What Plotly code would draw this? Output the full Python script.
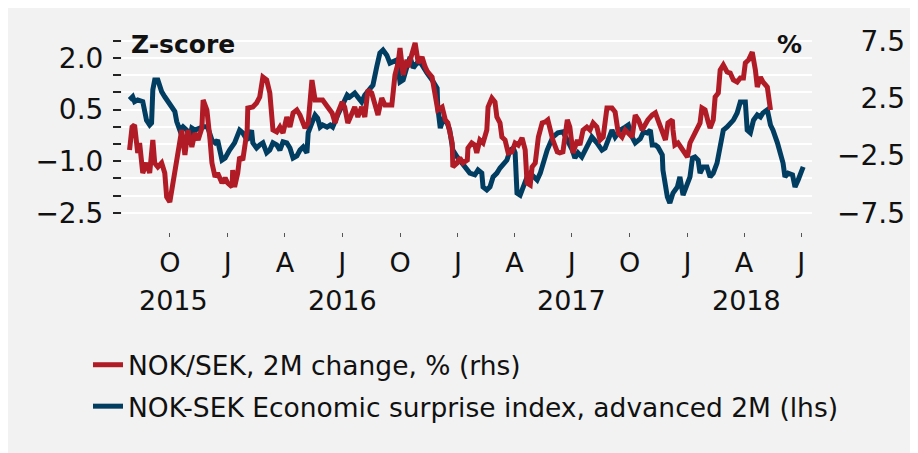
import plotly.graph_objects as go

# ---- data -------------------------------------------------------------
blue_dates = [
 "2015-07-29","2015-08-03","2015-08-06","2015-08-11","2015-08-19","2015-08-25","2015-08-30","2015-09-02",
 "2015-09-04","2015-09-07","2015-09-12","2015-09-18","2015-09-23","2015-09-28","2015-10-04","2015-10-09",
 "2015-10-12","2015-10-17","2015-10-22","2015-10-28","2015-11-02","2015-11-05","2015-11-10","2015-11-18",
 "2015-11-23","2015-11-30","2015-12-07","2015-12-12","2015-12-16","2015-12-23","2015-12-28","2016-01-04",
 "2016-01-12","2016-01-20","2016-01-25","2016-02-01","2016-02-08","2016-02-10","2016-02-16","2016-02-21",
 "2016-02-26","2016-03-03","2016-03-08","2016-03-13","2016-03-19","2016-03-24","2016-03-29","2016-04-04",
 "2016-04-09","2016-04-14","2016-04-20","2016-04-25","2016-04-30","2016-05-06","2016-05-08","2016-05-14",
 "2016-05-19","2016-05-23","2016-05-27","2016-05-31","2016-06-07","2016-06-12","2016-06-16","2016-06-24",
 "2016-07-02","2016-07-09","2016-07-13","2016-07-21","2016-07-26","2016-08-01","2016-08-06","2016-08-14",
 "2016-08-19","2016-08-25","2016-08-30","2016-09-04","2016-09-10","2016-09-15","2016-09-20","2016-09-26",
 "2016-10-01","2016-10-06","2016-10-12","2016-10-17","2016-10-22","2016-10-28","2016-11-02","2016-11-07",
 "2016-11-13","2016-11-21","2016-11-29","2016-11-30","2016-12-04","2016-12-08","2016-12-15","2016-12-19",
 "2016-12-24","2016-12-31","2017-01-04","2017-01-12","2017-01-20","2017-01-28","2017-02-02","2017-02-08",
 "2017-02-10","2017-02-16","2017-02-21","2017-02-26","2017-03-04","2017-03-09","2017-03-14","2017-03-20",
 "2017-03-25","2017-03-30","2017-04-02","2017-04-05","2017-04-10","2017-04-15","2017-04-21","2017-04-26",
 "2017-05-01","2017-05-07","2017-05-12","2017-05-16","2017-05-23","2017-05-28","2017-06-01","2017-06-09",
 "2017-06-17","2017-06-24","2017-07-02","2017-07-06","2017-07-11","2017-07-17","2017-07-22","2017-07-27",
 "2017-08-02","2017-08-10","2017-08-18","2017-08-23","2017-08-28","2017-09-03","2017-09-08","2017-09-16",
 "2017-09-24","2017-09-29","2017-10-05","2017-10-10","2017-10-18","2017-10-23","2017-10-29","2017-11-03",
 "2017-11-06","2017-11-11","2017-11-15","2017-11-22","2017-11-23","2017-11-27","2017-11-30","2017-12-04",
 "2017-12-09","2017-12-16","2017-12-20","2017-12-25","2018-01-01","2018-01-05","2018-01-09","2018-01-13",
 "2018-01-18","2018-01-21","2018-01-26","2018-02-01","2018-02-06","2018-02-11","2018-02-17","2018-02-22",
 "2018-02-27","2018-03-05","2018-03-10","2018-03-15","2018-03-21","2018-03-26","2018-04-03","2018-04-06",
 "2018-04-11","2018-04-16","2018-04-22","2018-04-27","2018-05-01","2018-05-08","2018-05-13","2018-05-17",
 "2018-05-24","2018-05-29","2018-06-02","2018-06-05","2018-06-10","2018-06-17","2018-06-21","2018-06-26",
 "2018-07-03","2018-07-04",
]
blue_values = [
 0.78,0.87,0.73,0.78,0.73,0.19,0.05,0.11,
 1.07,1.36,1.36,1.02,0.87,0.73,0.54,0.44,
 0.15,-0.10,0.00,-0.10,-0.29,-0.04,-0.10,-0.04,
 0.00,0.00,-0.39,-0.47,-0.39,-0.97,-0.91,-0.68,
 -0.47,-0.10,-0.18,-0.39,-0.10,-0.47,-0.62,-0.53,
 -0.47,-0.76,-0.68,-0.47,-0.53,-0.68,-0.44,-0.47,
 -0.62,-0.91,-0.85,-0.68,-0.59,-0.76,-0.18,0.11,
 0.34,0.25,-0.01,0.05,-0.01,0.05,-0.01,0.34,
 0.63,0.92,0.86,0.98,0.86,0.72,0.92,1.12,
 1.21,1.74,2.14,2.23,2.08,1.85,1.88,1.94,
 1.30,1.36,1.74,2.03,1.71,1.85,1.88,1.71,
 1.56,1.36,1.12,0.57,-0.04,0.19,0.11,-0.10,
 -0.68,-0.88,-0.97,-1.17,-1.35,-1.40,-1.26,-1.35,
 -1.75,-1.84,-1.75,-1.46,-1.35,-1.20,-1.11,-0.97,
 -0.68,-0.62,-0.76,-1.93,-1.99,-1.75,-1.46,-1.35,
 -1.46,-1.55,-1.35,-1.06,-0.68,-0.47,-0.30,-0.18,
 -0.15,-0.39,-0.68,-0.91,-0.76,-0.88,-0.68,-0.47,
 -0.30,-0.47,-0.68,-0.62,-0.39,-0.10,-0.30,-0.10,
 -0.01,0.05,-0.30,-0.47,-0.35,-0.15,-0.18,-0.10,
 -0.53,-0.53,-0.59,-0.82,-1.26,-1.75,-2.04,-2.22,
 -1.93,-1.75,-1.46,-1.99,-1.64,-1.46,-0.91,-0.88,
 -0.97,-1.35,-1.17,-1.17,-1.46,-1.35,-1.06,-0.47,
 -0.10,-0.01,0.11,0.19,0.40,0.72,0.72,-0.10,
 -0.18,0.19,0.34,0.28,0.40,0.49,0.05,-0.10,
 -0.47,-0.76,-1.06,-1.46,-1.35,-1.40,-1.75,-1.55,
 -1.26,-1.17,
]

red_dates = [
 "2015-07-29","2015-08-02","2015-08-06","2015-08-09","2015-08-11","2015-08-14","2015-08-19","2015-08-25",
 "2015-08-30","2015-09-04","2015-09-07","2015-09-12","2015-09-18","2015-09-23","2015-09-26","2015-10-01",
 "2015-10-06","2015-10-12","2015-10-17","2015-10-20","2015-10-25","2015-10-30","2015-11-05","2015-11-10",
 "2015-11-15","2015-11-21","2015-11-23","2015-11-29","2015-12-04","2015-12-07","2015-12-12","2015-12-16",
 "2015-12-23","2015-12-28","2016-01-01","2016-01-08","2016-01-09","2016-01-12","2016-01-17","2016-01-20",
 "2016-01-25","2016-02-01","2016-02-02","2016-02-10","2016-02-16","2016-02-21","2016-02-26","2016-03-03",
 "2016-03-08","2016-03-13","2016-03-19","2016-03-24","2016-03-29","2016-04-04","2016-04-09","2016-04-14",
 "2016-04-20","2016-04-25","2016-05-03","2016-05-08","2016-05-14","2016-05-19","2016-05-23","2016-05-31",
 "2016-06-08","2016-06-15","2016-06-20","2016-06-24","2016-07-01","2016-07-05","2016-07-10","2016-07-17",
 "2016-07-21","2016-07-26","2016-08-01","2016-08-06","2016-08-11","2016-08-17","2016-08-22","2016-08-27",
 "2016-09-02","2016-09-07","2016-09-18","2016-09-23","2016-09-28","2016-10-01","2016-10-06","2016-10-12",
 "2016-10-14","2016-10-20","2016-10-25","2016-10-30","2016-11-05","2016-11-10","2016-11-14","2016-11-21",
 "2016-11-26","2016-11-30","2016-12-07","2016-12-12","2016-12-16","2016-12-23","2016-12-24","2016-12-31",
 "2017-01-04","2017-01-09","2017-01-16","2017-01-17","2017-01-23","2017-01-28","2017-01-31","2017-02-05",
 "2017-02-10","2017-02-16","2017-02-18","2017-02-24","2017-03-01","2017-03-04","2017-03-09","2017-03-12",
 "2017-03-17","2017-03-22","2017-03-28","2017-04-02","2017-04-07","2017-04-13","2017-04-18","2017-04-21",
 "2017-04-26","2017-04-29","2017-05-04","2017-05-09","2017-05-15","2017-05-20","2017-05-24","2017-05-28",
 "2017-06-01","2017-06-08","2017-06-12","2017-06-17","2017-06-24","2017-06-28","2017-07-03","2017-07-10",
 "2017-07-14","2017-07-19","2017-07-25","2017-07-30","2017-08-04","2017-08-10","2017-08-15","2017-08-20",
 "2017-08-26","2017-09-03","2017-09-08","2017-09-13","2017-09-19","2017-09-24","2017-09-29","2017-10-05",
 "2017-10-10","2017-10-15","2017-10-21","2017-10-26","2017-10-30","2017-11-06","2017-11-11","2017-11-15",
 "2017-11-22","2017-11-27","2017-12-01","2017-12-08","2017-12-09","2017-12-12","2017-12-17","2017-12-24",
 "2017-12-28","2018-01-01","2018-01-05","2018-01-10","2018-01-16","2018-01-21","2018-01-24","2018-01-29",
 "2018-02-03","2018-02-06","2018-02-11","2018-02-14","2018-02-19","2018-02-22","2018-02-27","2018-03-05",
 "2018-03-10","2018-03-15","2018-03-21","2018-03-26","2018-03-31","2018-04-03","2018-04-08","2018-04-14",
 "2018-04-19","2018-04-22","2018-04-27","2018-05-01","2018-05-08","2018-05-13",
]
red_values = [
 -2.03,-0.03,0.15,-1.42,-2.29,-1.42,-4.04,-3.16,
 -4.04,-1.16,-3.16,-3.51,-3.16,-4.04,-6.13,-6.57,
 -4.91,-3.16,-1.42,-0.29,-2.47,-0.29,-1.77,-0.55,
 -1.16,-0.11,2.33,1.46,-1.16,-3.16,-4.39,-4.04,
 -4.91,-4.47,-4.91,-5.26,-3.78,-5.26,-4.04,-2.64,
 -2.91,-0.29,1.63,1.72,2.07,2.59,4.33,4.07,
 2.94,-0.29,-0.46,-0.03,-0.55,0.85,-0.03,1.20,
 1.46,1.02,-0.11,0.33,4.07,2.33,2.33,2.33,
 1.72,1.20,0.33,1.20,2.15,1.72,0.33,1.28,
 1.72,0.85,1.72,0.85,3.20,2.94,2.07,1.02,
 2.50,1.89,1.89,4.51,5.56,6.86,4.51,5.82,
 5.21,6.25,7.30,5.56,6.08,5.21,4.77,4.33,
 2.94,1.46,1.72,0.59,0.33,-1.42,-3.51,-3.16,
 -2.70,-3.16,-2.91,-1.86,-1.42,-1.60,-2.29,-1.16,
 -1.42,-0.29,1.72,2.50,2.15,0.85,0.33,-0.90,
 -1.16,-2.29,-2.20,-1.42,-1.60,-0.98,-2.03,-4.91,
 -5.08,-3.51,-3.16,-0.90,0.33,0.41,0.59,-0.55,
 -1.16,-2.20,-2.29,-2.20,0.59,-0.03,-2.29,-1.16,
 -1.60,-0.29,-0.03,-0.29,0.33,-0.03,-1.16,-0.90,
 1.63,1.63,1.28,-0.55,-0.90,-0.29,-0.55,-0.90,
 1.02,0.59,-0.29,0.33,0.59,1.02,1.20,0.59,
 -0.29,-1.16,0.33,0.59,-0.29,-1.60,-1.42,-2.03,
 -2.20,-2.64,-1.42,-0.90,-0.11,0.33,1.63,1.46,
 0.41,-0.11,0.59,2.59,2.94,4.94,5.38,4.77,
 4.68,4.07,3.90,4.25,4.25,5.56,5.82,6.51,
 4.94,3.46,4.33,3.90,3.46,1.46,
]

red_name = "NOK/SEK, 2M change, % (rhs)"
blue_name = "NOK-SEK Economic surprise index, advanced 2M (lhs)"

x_tick_dates = ["2015-10-01","2016-01-01","2016-04-01","2016-07-01","2016-10-01","2017-01-01",
                "2017-04-01","2017-07-01","2017-10-01","2018-01-01","2018-04-01","2018-07-01"]
x_tick_text = ["O","J","A","J","O","J","A","J","O","J","A","J"]
year_tick_dates = ["2016-01-01","2017-01-01","2018-01-01"]
year_labels = ["2015","2016","2017","2018"]
year_label_dates = ["2015-10-07","2016-07-01","2017-06-30","2018-04-05"]

left_ticks = [-2.5,-2.0,-1.5,-1.0,-0.5,0.0,0.5,1.0,1.5,2.0,2.5]
left_text = ["\u22122.5","","","\u22121.0","","","0.5","","","2.0",""]
right_ticks = [-7.5,-5.0,-2.5,0.0,2.5,5.0,7.5]
right_label_ticks = [-7.5,-2.5,2.5,7.5]
right_label_text = ["\u22127.5","\u22122.5","2.5","7.5"]

# ---- style ------------------------------------------------------------
RED = "#b01b25"
BLUE = "#003d61"
BG = "#f2f2f2"
FONT = "DejaVu Sans"
W, H = 918, 453
OFF = 8                       # page body margin
ML, MR, MT, MB = 114, 18, 28, 229
PW = W - ML - MR
PH = H - MT - MB
XDOM = 690 / PW
YL = [-3.061, 2.637]
YR = [3 * YL[0], 3 * YL[1]]
XR = ["2015-07-17", "2018-07-18"]

def px(x):   # screen x -> paper
    return (x - OFF - ML) / PW

def py(y):   # screen y -> paper
    return (H - MB - (y - OFF)) / PH

fig = go.Figure()
fig.add_trace(go.Scatter(x=red_dates, y=red_values, name=red_name, mode="lines",
                         legendgroup="a", line=dict(color=RED, width=5), yaxis="y3"))
fig.add_trace(go.Scatter(x=blue_dates, y=blue_values, name=blue_name, mode="lines",
                         legendgroup="b", line=dict(color=BLUE, width=5), yaxis="y"))

fig.update_layout(
    width=W, height=H,
    margin=dict(l=ML, r=MR, t=MT, b=MB),
    paper_bgcolor=BG, plot_bgcolor=BG,
    font=dict(family=FONT, size=26, color="#111111"),
    showlegend=True,
    legend=dict(x=px(88), y=py(341), xanchor="left", yanchor="top",
                bgcolor="rgba(0,0,0,0)", font=dict(size=26.5, family=FONT),
                tracegroupgap=4, itemwidth=30, traceorder="grouped"),
    xaxis=dict(domain=[0, XDOM], range=XR, type="date", tickmode="array",
               tickvals=x_tick_dates, ticktext=x_tick_text, ticks="outside",
               ticklen=4, tickwidth=1, tickcolor="#555555", showgrid=False,
               zeroline=False, showline=False, tickfont=dict(size=27),
               ticklabelstandoff=3),
    xaxis2=dict(overlaying="x", anchor="y", range=XR, type="date", tickmode="array",
                tickvals=year_tick_dates, ticks="outside", ticklen=10, tickwidth=1,
                tickcolor="#555555", showticklabels=False, showgrid=False,
                zeroline=False, showline=False),
    yaxis=dict(range=YL, tickmode="array", tickvals=left_ticks, ticktext=left_text,
               ticks="outside", ticklen=8, tickwidth=1.5, tickcolor="#222222",
               showgrid=True, gridcolor="white", gridwidth=2, zeroline=False,
               showline=False, tickfont=dict(size=28), ticklabelstandoff=4),
    yaxis2=dict(overlaying="y", side="right", anchor="x", range=YR, tickmode="array",
                tickvals=right_ticks, ticks="outside", ticklen=10, tickwidth=1.5,
                tickcolor="#222222", showticklabels=False, showgrid=False,
                zeroline=False, showline=False),
    yaxis3=dict(overlaying="y", side="left", anchor="free", position=1.0, range=YR,
                tickmode="array", tickvals=right_label_ticks, ticktext=right_label_text,
                ticks="", showgrid=False, zeroline=False, showline=False,
                tickfont=dict(size=28), ticklabelstandoff=3),
)

annotations = [
    dict(text="<b>Z-score</b>", x=px(129), y=py(44), xref="paper", yref="paper",
         xanchor="left", yanchor="middle", showarrow=False, font=dict(size=25)),
    dict(text="<b>%</b>", x=px(804), y=py(44), xref="paper", yref="paper",
         xanchor="right", yanchor="middle", showarrow=False, font=dict(size=25)),
]
for lab, d in zip(year_labels, year_label_dates):
    annotations.append(dict(text=lab, x=d, y=py(300), xref="x", yref="paper",
                            xanchor="center", yanchor="middle", showarrow=False,
                            font=dict(size=27)))
fig.update_layout(annotations=annotations)

fig.write_html("out.html")
